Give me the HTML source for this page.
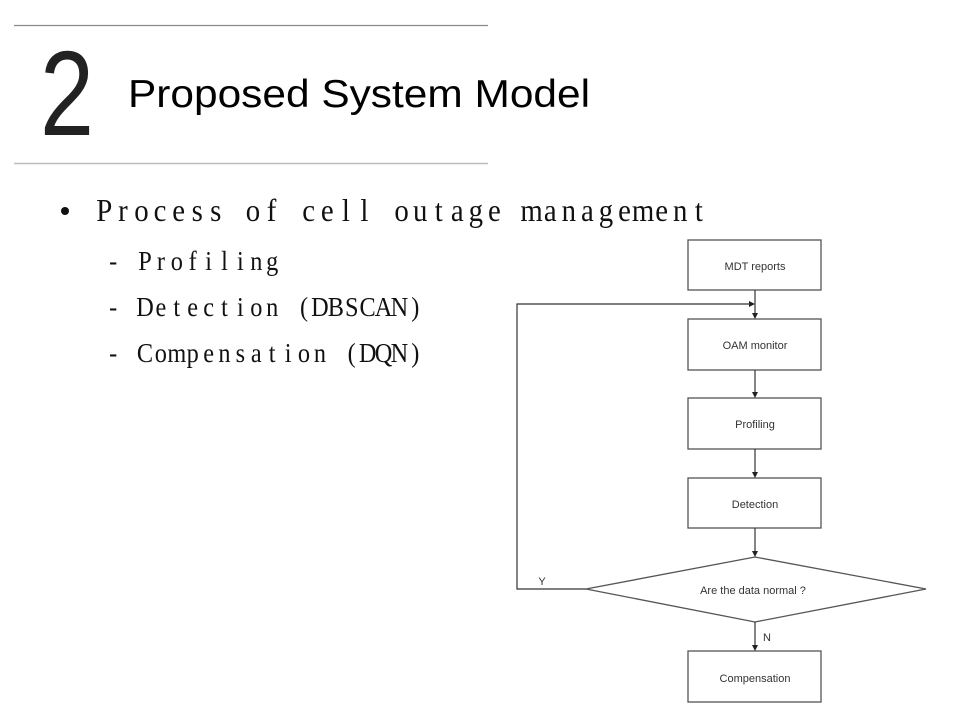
<!DOCTYPE html>
<html><head><meta charset="utf-8"><style>
html,body{margin:0;padding:0;background:#fff;}
svg{display:block;}
</style></head><body>
<svg width="960" height="720" viewBox="0 0 960 720" xmlns="http://www.w3.org/2000/svg">
<rect width="960" height="720" fill="#fff"/>
<line x1="14" y1="25.5" x2="488" y2="25.5" stroke="#8a8a8a" stroke-width="1.2"/>
<line x1="14" y1="163.5" x2="488" y2="163.5" stroke="#bdbdbd" stroke-width="1.5"/>
<text x="40" y="135" font-family="Liberation Sans, sans-serif" font-size="121" fill="#222" textLength="54" lengthAdjust="spacingAndGlyphs">2</text>
<text x="128" y="107" font-family="Liberation Sans, sans-serif" font-size="39" fill="#000" textLength="462" lengthAdjust="spacingAndGlyphs">Proposed System Model</text>

<circle cx="65" cy="211" r="4" fill="#111"/>
<g font-family="Liberation Serif, serif" fill="#111" text-anchor="middle">
<text transform="translate(104.3,221) scale(0.9,1)" y="0" font-size="32" x="0 20.64 41.29 61.93 82.58 103.22 123.86 144.51 165.15 185.8 206.44 227.08 247.73 268.37 289.02 309.66 330.3 350.95 371.59 392.24 412.88 433.52 454.17 474.81 495.46 516.1 536.74 557.39 578.03 598.68 619.32 639.96 660.61">Process of cell outage management</text>
<text transform="translate(113.2,270) scale(0.9,1)" y="0" font-size="27" x="0 17.67 35.33 53 70.67 88.33 106 123.67 141.33 159 176.67">- Profiling</text>
<text transform="translate(113.2,316) scale(0.9,1)" y="0" font-size="27" x="0 17.67 35.33 53 70.67 88.33 106 123.67 141.33 159 176.67 194.33 212 229.67 247.33 265 282.67 300.33 318 335.67">- Detection (DBSCAN)</text>
<text transform="translate(113.2,362) scale(0.9,1)" y="0" font-size="27" x="0 17.67 35.33 53 70.67 88.33 106 123.67 141.33 159 176.67 194.33 212 229.67 247.33 265 282.67 300.33 318 335.67">- Compensation (DQN)</text>
</g>

<g stroke="#555" stroke-width="1.3" fill="#fff">
<rect x="688" y="240" width="133" height="50"/>
<rect x="688" y="319" width="133" height="51"/>
<rect x="688" y="398" width="133" height="51"/>
<rect x="688" y="478" width="133" height="50"/>
<rect x="688" y="651" width="133" height="51"/>
<polygon points="755,557 926,589 755,622 586,589"/>
</g>
<g stroke="#333" stroke-width="1.2" fill="none">
<line x1="755" y1="290" x2="755" y2="316"/>
<line x1="755" y1="370" x2="755" y2="395"/>
<line x1="755" y1="449" x2="755" y2="475"/>
<line x1="755" y1="528" x2="755" y2="554"/>
<line x1="755" y1="622" x2="755" y2="648"/>
<polyline points="586,589 517,589 517,304 751,304"/>
</g>
<g fill="#222">
<polygon points="752,313 758,313 755,319"/>
<polygon points="752,392 758,392 755,398"/>
<polygon points="752,472 758,472 755,478"/>
<polygon points="752,551 758,551 755,557"/>
<polygon points="752,645 758,645 755,651"/>
<polygon points="749,301 749,307 755,304"/>
</g>
<g font-family="Liberation Sans, sans-serif" font-size="11" fill="#333" text-anchor="middle">
<text x="755" y="270">MDT reports</text>
<text x="755" y="349">OAM monitor</text>
<text x="755" y="428">Profiling</text>
<text x="755" y="508">Detection</text>
<text x="753" y="594">Are the data normal ?</text>
<text x="755" y="682">Compensation</text>
<text x="542" y="585">Y</text>
<text x="767" y="641">N</text>
</g>
</svg>
</body></html>
